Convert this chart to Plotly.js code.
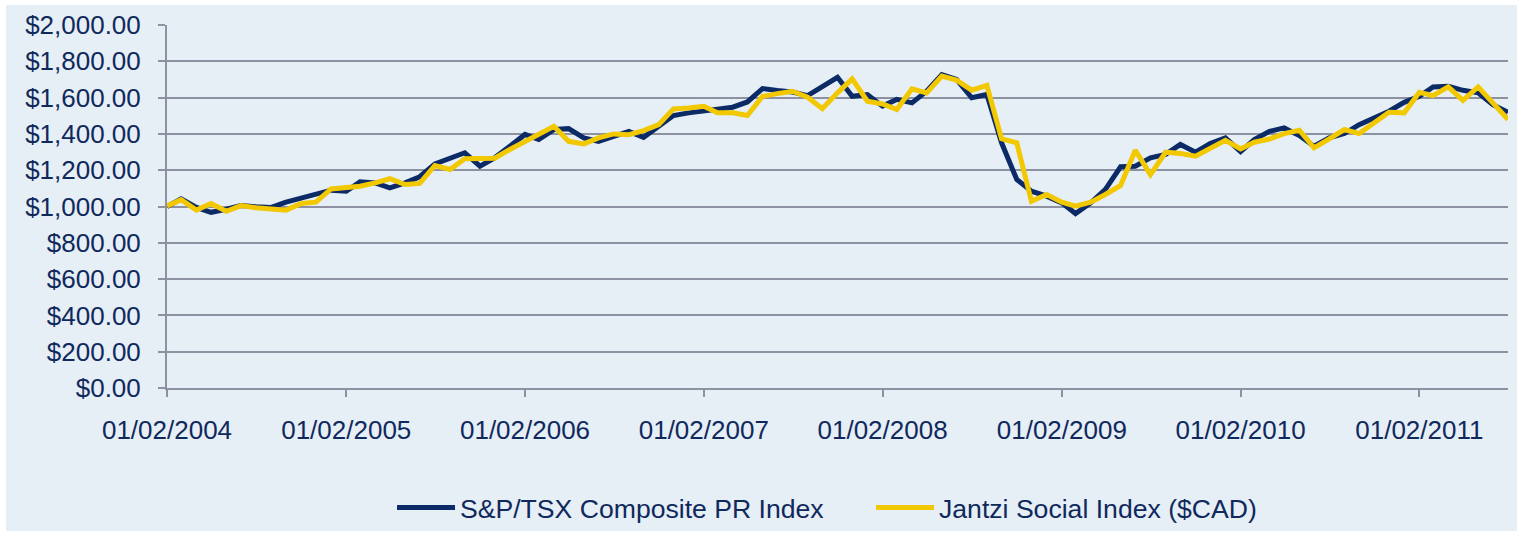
<!DOCTYPE html>
<html>
<head>
<meta charset="utf-8">
<script src="https://cdn.plot.ly/plotly-3.0.1.min.js"></script>
<style>
  html, body { margin: 0; padding: 0; background: #ffffff; }
  #chart { position: absolute; left: 6px; top: 5px; width: 1511px; height: 526px; }
</style>
</head>
<body>
<div id="chart"></div>
<script>
// Monthly observations, first one on 01/02/2004 (dd/mm/yyyy), last on 01/08/2011
var startYear = 2004;
var startMonth = 2;

var spTsx = [
  1000, 1042, 995, 968, 985, 1005, 998, 995, 1024, 1048, 1066, 1090,
  1084, 1136, 1130, 1103, 1130, 1164, 1235, 1263, 1296, 1222, 1268, 1332,
  1397, 1369, 1424, 1429, 1378, 1359, 1387, 1414, 1381, 1442, 1501, 1516,
  1528, 1534, 1547, 1576, 1650, 1639, 1631, 1611, 1662, 1712, 1607, 1617,
  1553, 1590, 1571, 1635, 1727, 1700, 1599, 1617, 1351, 1149, 1084, 1057,
  1020, 961, 1020, 1094, 1219, 1222, 1268, 1287, 1342, 1299, 1347, 1378,
  1302, 1369, 1414, 1433, 1391, 1332, 1378, 1402, 1451, 1488, 1525, 1574,
  1607, 1659, 1662, 1640, 1626, 1561, 1519
];

var jantzi = [
  1003, 1038, 980, 1017, 974, 1005, 993, 987, 980, 1017, 1024, 1097,
  1108, 1112, 1130, 1153, 1121, 1127, 1226, 1204, 1263, 1263, 1266, 1314,
  1360, 1396, 1442, 1359, 1345, 1378, 1400, 1396, 1418, 1451, 1538, 1543,
  1552, 1516, 1516, 1501, 1607, 1622, 1635, 1602, 1539, 1626, 1703, 1580,
  1565, 1534, 1648, 1626, 1718, 1696, 1641, 1667, 1373, 1351, 1029, 1066,
  1024, 1002, 1024, 1066, 1116, 1310, 1176, 1299, 1292, 1277, 1318, 1365,
  1317, 1354, 1372, 1402, 1420, 1323, 1372, 1424, 1402, 1464, 1519, 1516,
  1629, 1611, 1659, 1585, 1659, 1571, 1479
];

var seriesNames = ["S&P/TSX Composite PR Index", "Jantzi Social Index ($CAD)"];
var tickDates = ["2004-02-01", "2005-02-01", "2006-02-01", "2007-02-01",
                 "2008-02-01", "2009-02-01", "2010-02-01", "2011-02-01"];
var tickLabels = ["01/02/2004", "01/02/2005", "01/02/2006", "01/02/2007",
                  "01/02/2008", "01/02/2009", "01/02/2010", "01/02/2011"];
var yTicks = [0, 200, 400, 600, 800, 1000, 1200, 1400, 1600, 1800, 2000];

function pad(n) { return (n < 10 ? "0" : "") + n; }
var dates = [];
for (var k = 0; k < spTsx.length; k++) {
  var m = startMonth - 1 + k;
  var y = startYear + Math.floor(m / 12);
  dates.push(y + "-" + pad((m % 12) + 1) + "-01");
}

var textColor = "#10295c";
var gridColor = "#8d91a1";
var bg = "#e6eef6";
var fontFam = "Liberation Sans, Arial, sans-serif";

var traces = [
  { x: dates, y: spTsx, name: seriesNames[0], type: "scatter", mode: "lines",
    line: { color: "#0b2a66", width: 5 } },
  { x: dates, y: jantzi, name: seriesNames[1], type: "scatter", mode: "lines",
    line: { color: "#f2c800", width: 5 } }
];

var layout = {
  paper_bgcolor: bg,
  plot_bgcolor: bg,
  margin: { l: 161, r: 9, t: 20, b: 143, autoexpand: false },
  font: { family: fontFam, size: 26, color: textColor },
  showlegend: true,
  legend: {
    orientation: "h", x: 0.1678, xanchor: "left", y: -0.33, yanchor: "middle",
    font: { family: fontFam, size: 26.6, color: textColor },
    bgcolor: "rgba(0,0,0,0)", itemwidth: 58, entrywidth: 406, entrywidthmode: "pixels"
  },
  hovermode: false,
  xaxis: {
    type: "date",
    range: [dates[0], dates[dates.length - 1]],
    tickmode: "array", tickvals: tickDates, ticktext: tickLabels,
    ticks: "outside", ticklen: 7, tickwidth: 2, tickcolor: gridColor,
    showgrid: false, zeroline: false,
    showline: true, linecolor: gridColor, linewidth: 2,
    tickfont: { family: fontFam, size: 26, color: textColor },
    ticklabelstandoff: 11
  },
  yaxis: {
    range: [0, 2000], tickmode: "array",
    tickvals: yTicks,
    tickformat: "$,.2f",
    ticks: "outside", ticklen: 7, tickwidth: 2, tickcolor: gridColor,
    showgrid: true, gridcolor: gridColor, gridwidth: 2,
    zeroline: false, showline: true, linecolor: gridColor, linewidth: 2,
    tickfont: { family: fontFam, size: 26, color: textColor },
    ticklabelstandoff: 12
  }
};

Plotly.newPlot("chart", traces, layout, { displayModeBar: false, staticPlot: true });
</script>
</body>
</html>
